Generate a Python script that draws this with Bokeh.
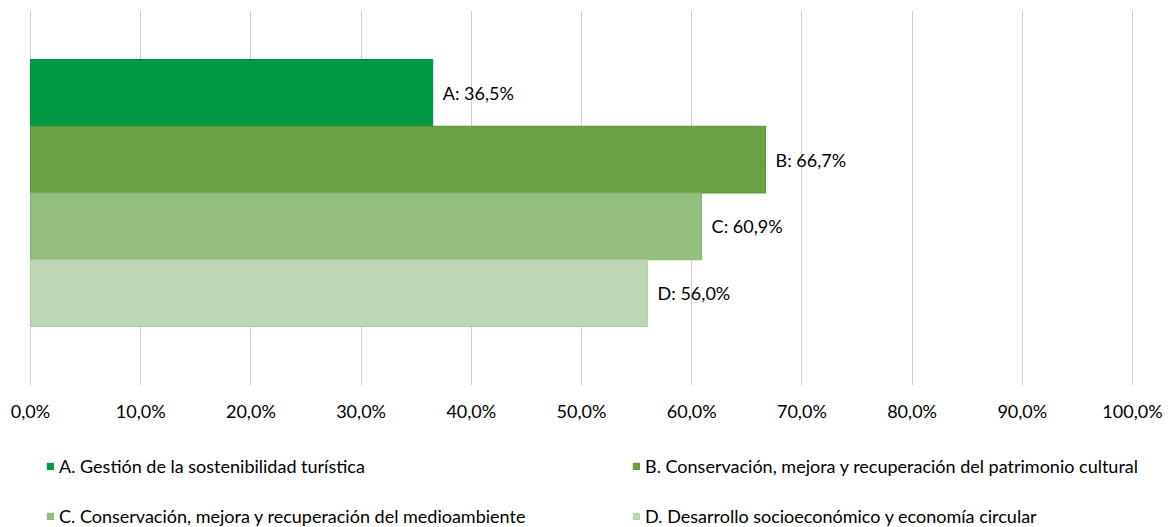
from bokeh.plotting import figure
from bokeh.models import ColumnDataSource, Range1d, FixedTicker, Legend, LegendItem
from bokeh.layouts import column
from bokeh.core.properties import value
from bokeh.embed import file_html
from bokeh.resources import INLINE

codes = ["A", "B", "C", "D"]
names = [
    "A. Gestión de la sostenibilidad turística",
    "B. Conservación, mejora y recuperación del patrimonio cultural",
    "C. Conservación, mejora y recuperación del medioambiente",
    "D. Desarrollo socioeconómico y economía circular",
]
values = [36.5, 66.7, 60.9, 56.0]
fills = ["#009A44", "#6AA143", "#93BE7D", "#BED6B4"]
edges = ["#008A3C", "#5C9436", "#86B370", "#B0CCA4"]
ticks = [0, 10, 20, 30, 40, 50, 60, 70, 80, 90, 100]
tick_labels = ["0,0%", "10,0%", "20,0%", "30,0%", "40,0%", "50,0%",
               "60,0%", "70,0%", "80,0%", "90,0%", "100,0%"]

FONT = "Lato"
FS = "18px"
W = 1171
# frame spans the full width; 0% sits 30px from the left edge, 100% 39px from the right
PX = (W - 30 - 39) / 100.0

p = figure(width=W, height=440, output_backend="svg", toolbar_location=None,
           x_range=Range1d(-30 / PX, 100 + 39 / PX), y_range=Range1d(4.384, -1.234),
           y_axis_location=None, min_border_left=0, min_border_right=0,
           min_border_top=10, min_border_bottom=55)
p.outline_line_color = None
p.ygrid.visible = False
p.xgrid.grid_line_color = "#CFCFCF"
p.xgrid.grid_line_width = 1

ax = p.xaxis[0]
ax.ticker = FixedTicker(ticks=ticks)
ax.major_label_overrides = {t: l for t, l in zip(ticks, tick_labels)}
ax.axis_line_color = None
ax.major_tick_line_color = None
ax.minor_tick_line_color = None
ax.major_label_standoff = 8
ax.major_label_text_font = FONT
ax.major_label_text_font_size = FS
ax.major_label_text_color = "#000000"

for i, (c, v, f, e) in enumerate(zip(codes, values, fills, edges)):
    src = ColumnDataSource(dict(y=[i], right=[v],
                                lab=[f"{c}: {v:.1f}%".replace(".", ",")]))
    p.hbar(y="y", right="right", left=0, height=1, source=src,
           fill_color=f, line_color=e, line_width=1)
    p.text(x="right", y="y", text="lab", source=src, x_offset=10,
           text_baseline="middle", text_align="left",
           text_font=value(FONT), text_font_size=FS, text_color="#000000")

# legend panel with hidden proxy bars
q = figure(width=W, height=87, output_backend="svg", toolbar_location=None,
           x_range=Range1d(0, 1), y_range=Range1d(0, 1),
           x_axis_location=None, y_axis_location=None,
           min_border_left=0, min_border_right=0, min_border_top=0, min_border_bottom=0)
q.outline_line_color = None
q.grid.visible = False

proxies = []
for i, (v, f, e) in enumerate(zip(values, fills, edges)):
    r = q.hbar(y=[i], right=[v], left=0, height=1,
               fill_color=f, line_color=e, line_width=1, visible=False)
    proxies.append(r)

def make_legend(idx, loc):
    return Legend(items=[LegendItem(label=names[i], renderers=[proxies[i]]) for i in idx],
                  location=loc, orientation="vertical",
                  glyph_width=8, glyph_height=8, label_height=8,
                  label_standoff=5, spacing=28, padding=0, margin=0,
                  border_line_color=None, background_fill_alpha=0,
                  inactive_fill_alpha=0,
                  label_text_font=FONT, label_text_font_size=FS,
                  label_text_color="#000000", label_text_baseline="middle")

q.add_layout(make_legend([0, 2], (46, 0)), "center")
q.add_layout(make_legend([1, 3], (632, 0)), "center")

layout = column(p, q, spacing=0)
open("out.html", "w").write(file_html(layout, INLINE))
